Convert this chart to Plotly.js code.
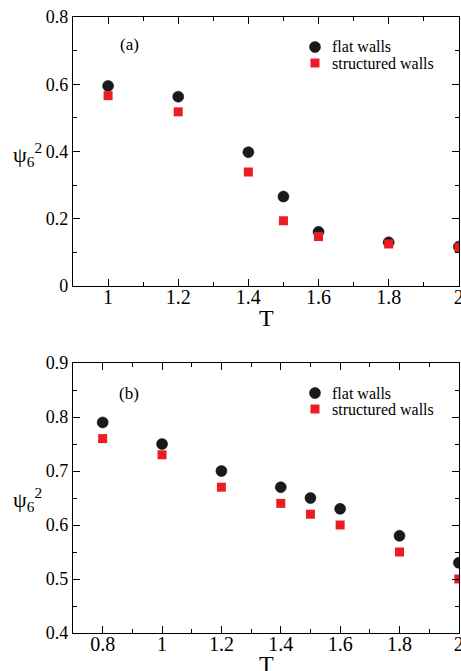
<!DOCTYPE html>
<html>
<head>
<meta charset="utf-8">
<script src="https://cdn.plot.ly/plotly-3.0.1.min.js"></script>
<style>
  html, body { margin: 0; padding: 0; background: #fff; overflow: hidden; }
  #chart { width: 461px; height: 671px; }
</style>
</head>
<body>
<div id="chart"></div>
<script>
// Panel (a): psi_6^2 versus temperature T
const tempA = [1.0, 1.2, 1.4, 1.5, 1.6, 1.8, 2.0];
const flatA = [0.595, 0.563, 0.398, 0.266, 0.161, 0.130, 0.117];
const structA = [0.566, 0.518, 0.339, 0.194, 0.147, 0.125, 0.115];

// Panel (b)
const tempB = [0.8, 1.0, 1.2, 1.4, 1.5, 1.6, 1.8, 2.0];
const flatB = [0.79, 0.75, 0.70, 0.67, 0.65, 0.63, 0.58, 0.53];
const structB = [0.76, 0.73, 0.67, 0.64, 0.62, 0.60, 0.55, 0.50];

const seriesNames = ['flat walls', 'structured walls'];
const panelLabels = ['(a)', '(b)'];
const xTitle = 'T';
const yTitle = 'ψ<sub>6</sub><sup>2</sup>';

const SERIF = 'Liberation Serif, Times New Roman, serif';
const BLACK = '#1a1a1a';
const RED = '#ec1c24';

function circleTrace(x, y, xa, ya) {
  return {
    x: x, y: y, xaxis: xa, yaxis: ya, type: 'scatter', mode: 'markers',
    name: seriesNames[0], showlegend: false,
    marker: { symbol: 'circle', size: 11, color: BLACK, line: { color: '#000', width: 0.5 } }
  };
}
function squareTrace(x, y, xa, ya) {
  return {
    x: x, y: y, xaxis: xa, yaxis: ya, type: 'scatter', mode: 'markers',
    name: seriesNames[1], showlegend: false,
    marker: { symbol: 'square', size: 9, color: RED, line: { width: 0 } }
  };
}

const data = [
  circleTrace(tempA, flatA, 'x', 'y'),
  squareTrace(tempA, structA, 'x', 'y'),
  circleTrace(tempB, flatB, 'x2', 'y2'),
  squareTrace(tempB, structB, 'x2', 'y2')
];

function xAxis(range, anchor) {
  return {
    range: range, anchor: anchor, dtick: 0.2, tick0: 0,
    showline: true, linecolor: '#000', linewidth: 1.2, mirror: 'ticks',
    ticks: 'inside', ticklen: 7, tickwidth: 1, tickcolor: '#000',
    minor: { ticks: 'inside', ticklen: 4, dtick: 0.1, tickwidth: 1, tickcolor: '#000' },
    showgrid: false, zeroline: false,
    ticklabeloverflow: 'allow', ticklabelstandoff: -7,
    tickfont: { family: SERIF, size: 20, color: '#000' }
  };
}
function yAxis(range, dtick, minor, domain, anchor) {
  return {
    range: range, domain: domain, anchor: anchor, dtick: dtick, tick0: 0,
    showline: true, linecolor: '#000', linewidth: 1.2, mirror: 'ticks',
    ticks: 'inside', ticklen: 7, tickwidth: 1, tickcolor: '#000',
    minor: { ticks: 'inside', ticklen: 4, dtick: minor, tickwidth: 1, tickcolor: '#000' },
    showgrid: false, zeroline: false,
    tickfont: { family: SERIF, size: 18, color: '#000' }
  };
}

// Hand-built legend: symbol shapes plus text, positioned in paper space
const PLOT_L = 73, PLOT_R = 459, PLOT_T = 17, PLOT_B = 633;
const px2x = p => (p - PLOT_L) / (PLOT_R - PLOT_L);
const px2y = p => (PLOT_B - p) / (PLOT_B - PLOT_T);

function legendParts(rowTop) {
  const rows = [rowTop, rowTop + 16];
  const shapes = [
    { type: 'circle', xref: 'paper', yref: 'paper', xsizemode: 'pixel', ysizemode: 'pixel',
      xanchor: px2x(315), yanchor: px2y(rows[0]), x0: -5.5, x1: 5.5, y0: -5.5, y1: 5.5,
      fillcolor: BLACK, line: { color: '#000', width: 0.5 } },
    { type: 'rect', xref: 'paper', yref: 'paper', xsizemode: 'pixel', ysizemode: 'pixel',
      xanchor: px2x(315), yanchor: px2y(rows[1]), x0: -4.5, x1: 4.5, y0: -4.5, y1: 4.5,
      fillcolor: RED, line: { width: 0 } }
  ];
  const anns = seriesNames.map((name, i) => ({
    text: name, xref: 'paper', yref: 'paper', x: px2x(331), y: px2y(rows[i]),
    xanchor: 'left', yanchor: 'middle', showarrow: false, borderpad: 0,
    font: { family: SERIF, size: 16, color: '#000' }
  }));
  return { shapes, anns };
}

function label(text, xp, yp, size) {
  return {
    text: text, xref: 'paper', yref: 'paper', x: px2x(xp), y: px2y(yp),
    xanchor: 'center', yanchor: 'middle', showarrow: false, borderpad: 0,
    font: { family: SERIF, size: size, color: '#000' }
  };
}

const legA = legendParts(47);
const legB = legendParts(393);

const annotations = [
  label(panelLabels[0], 129, 45, 17),
  label(panelLabels[1], 129, 393, 17),
  label(yTitle, 27, 154, 22),
  label(yTitle, 27, 499, 22),
  label(xTitle, 266, 318, 24),
  label(xTitle, 266, 664, 24)
].concat(legA.anns, legB.anns);

const layout = {
  width: 461, height: 671,
  margin: { l: PLOT_L, r: 461 - PLOT_R, t: PLOT_T, b: 671 - PLOT_B, pad: 0 },
  paper_bgcolor: '#fff', plot_bgcolor: '#fff',
  showlegend: false,
  xaxis: xAxis([0.9, 2.0005], 'y'),
  yaxis: yAxis([0, 0.8], 0.2, 0.1, [px2y(286), 1], 'x'),
  xaxis2: xAxis([0.7, 2.0005], 'y2'),
  yaxis2: yAxis([0.4, 0.9], 0.1, 0.05, [0, px2y(363)], 'x2'),
  shapes: legA.shapes.concat(legB.shapes),
  annotations: annotations
};

Plotly.newPlot('chart', data, layout, { staticPlot: true, displayModeBar: false });
</script>
</body>
</html>
